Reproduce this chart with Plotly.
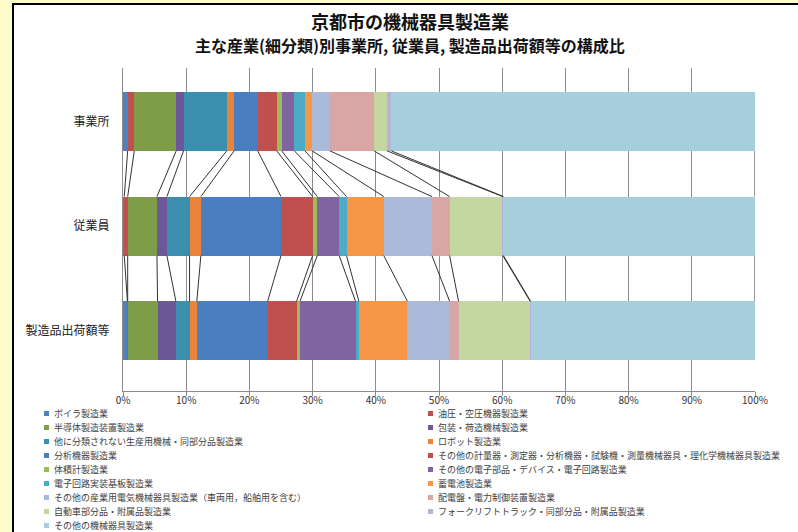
import plotly.graph_objects as go

# ---------------- data ----------------
categories = ["事業所", "従業員", "製造品出荷額等"]

series_names = [
    "ボイラ製造業",
    "油圧・空圧機器製造業",
    "半導体製造装置製造業",
    "包装・荷造機械製造業",
    "他に分類されない生産用機械・同部分品製造業",
    "ロボット製造業",
    "分析機器製造業",
    "その他の計量器・測定器・分析機器・試験機・測量機械器具・理化学機械器具製造業",
    "体積計製造業",
    "その他の電子部品・デバイス・電子回路製造業",
    "電子回路実装基板製造業",
    "蓄電池製造業",
    "その他の産業用電気機械器具製造業（車両用，船舶用を含む）",
    "配電盤・電力制御装置製造業",
    "自動車部分品・附属品製造業",
    "フォークリフトトラック・同部分品・附属品製造業",
    "その他の機械器具製造業",
]

# share (%) per series for [事業所, 従業員, 製造品出荷額等]
jigyosho = [0.74, 1.05, 6.63, 1.16, 6.84, 1.16, 3.74, 3.00, 0.79, 2.00, 1.68, 1.16, 2.79, 7.00, 2.05, 0.68, 57.53]
jugyoin = [0.20, 0.54, 4.63, 1.58, 3.58, 1.79, 12.68, 5.00, 0.74, 3.47, 1.16, 5.89, 7.63, 2.79, 8.42, 0.10, 39.80]
shukka = [0.70, 0.04, 4.73, 2.90, 2.16, 1.15, 11.21, 4.58, 0.53, 8.79, 0.53, 7.68, 6.68, 1.42, 11.32, 0.08, 35.50]

colors = [
    "#4F81BD", "#C0504D", "#7F9D48", "#6C5797", "#3B8FAE", "#E9843A",
    "#4A7EC0", "#C0504D", "#9BBB59", "#8064A2", "#4BACC6", "#F79646",
    "#A9BADB", "#D9A6A6", "#C5D7A0", "#B7B3D6", "#A7CEDC",
]

x_ticks = [0, 10, 20, 30, 40, 50, 60, 70, 80, 90, 100]
x_tick_labels = [f"{v}%" for v in x_ticks]

title_1 = "京都市の機械器具製造業"
title_2 = "主な産業(細分類)別事業所, 従業員, 製造品出荷額等の構成比"

# ---------------- layout constants ----------------
W, H = 798, 532
ML, MR, MT, MB = 123, 43, 68, 141
PW, PH = W - ML - MR, H - MT - MB
FONT = "Noto Sans CJK JP"
BAR_W = 0.564


def px2x(px):
    return (px - ML) / PW


def px2y(py):
    return 1 - (py - MT) / PH


values = [jigyosho, jugyoin, shukka]
ypos = list(range(len(categories)))

fig = go.Figure()

for i, name in enumerate(series_names):
    fig.add_trace(go.Bar(
        y=ypos,
        x=[v[i] for v in values],
        orientation="h",
        name=name,
        width=BAR_W,
        marker=dict(color=colors[i], line=dict(width=0)),
        showlegend=False,
    ))

# series lines connecting the right edge of each series between bars
lx, ly = [], []
cum = [[sum(v[: i + 1]) for i in range(len(series_names))] for v in values]
for i in range(len(series_names)):
    for k in range(len(categories) - 1):
        lx += [cum[k][i], cum[k + 1][i], None]
        ly += [ypos[k] + BAR_W / 2, ypos[k + 1] - BAR_W / 2, None]
fig.add_trace(go.Scatter(
    x=lx, y=ly, mode="lines",
    line=dict(color="#333333", width=1),
    showlegend=False, hoverinfo="skip",
))

shapes = []
# white chart area with black border on a pale-yellow page
shapes.append(dict(
    type="rect", xref="paper", yref="paper", layer="below",
    x0=px2x(13), x1=px2x(830), y0=px2y(560), y1=px2y(4),
    fillcolor="white", line=dict(color="black", width=2),
))

annotations = [
    dict(text=f"<b>{title_1}</b>", x=px2x(410), y=px2y(21), xref="paper", yref="paper",
         xanchor="center", yanchor="middle", showarrow=False,
         font=dict(family=FONT, size=18, color="#111111")),
    dict(text=f"<b>{title_2}</b>", x=px2x(410), y=px2y(45), xref="paper", yref="paper",
         xanchor="center", yanchor="middle", showarrow=False,
         font=dict(family=FONT, size=16, color="#111111")),
]

# legend: two columns, row-major order
col_marker_x = [44, 428]
col_text_x = [52, 436]
row_y0, row_dy = 413.5, 14.0
for i, name in enumerate(series_names):
    col = i % 2
    row = i // 2
    yc = row_y0 + row * row_dy
    mx = col_marker_x[col]
    shapes.append(dict(
        type="rect", xref="paper", yref="paper",
        x0=px2x(mx), x1=px2x(mx + 5), y0=px2y(yc + 2.5), y1=px2y(yc - 2.5),
        fillcolor=colors[i], line=dict(width=0),
    ))
    annotations.append(dict(
        text=name, x=px2x(col_text_x[col]), y=px2y(yc), xref="paper", yref="paper",
        xanchor="left", yanchor="middle", showarrow=False,
        font=dict(family=FONT, size=9, color="#404040"),
    ))

fig.update_layout(
    width=W, height=H,
    margin=dict(l=ML, r=MR, t=MT, b=MB, pad=0),
    paper_bgcolor="#FFFCCB",
    plot_bgcolor="rgba(0,0,0,0)",
    barmode="stack",
    shapes=shapes,
    annotations=annotations,
    font=dict(family=FONT, color="#222222"),
    xaxis=dict(
        range=[0, 100], tickvals=x_ticks, ticktext=x_tick_labels,
        showgrid=True, gridcolor="#8C8C8C", gridwidth=1,
        showline=True, linecolor="#8C8C8C", linewidth=1,
        ticks="outside", ticklen=4, tickcolor="#8C8C8C",
        ticklabelstandoff=-4,
        zeroline=False, tickfont=dict(family=FONT, size=10, color="#333333"),
        fixedrange=True,
    ),
    yaxis=dict(
        range=[2.575, -0.51], tickvals=ypos, ticktext=categories,
        showgrid=False, showline=True, linecolor="#8C8C8C", linewidth=1,
        ticks="", zeroline=False, ticklabelstandoff=10,
        tickfont=dict(family=FONT, size=12, color="#222222"),
        fixedrange=True,
    ),
)

fig.write_html("out.html", config={"displayModeBar": False},
               post_script="document.body.style.margin='0';")
